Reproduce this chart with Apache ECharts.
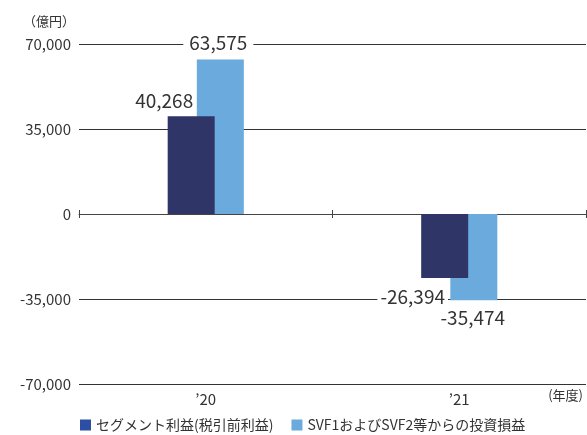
<!DOCTYPE html>
<html><head><meta charset="utf-8">
<script src="https://cdn.jsdelivr.net/npm/echarts@6/dist/echarts.min.js"></script>
<style>html,body{margin:0;padding:0;background:#fff}#c{width:587px;height:435px}</style>
</head><body><div id="c"></div>
<script>
const categories = ["’20", "’21"];
const segmentProfit = [40268, -26394];
const svfGain = [63575, -35474];
const seriesNames = ["セグメント利益(税引前利益)", "SVF1およびSVF2等からの投資損益"];
const yTicks = [-70000, -35000, 0, 35000, 70000];

const FONT = "'Noto Sans CJK JP', sans-serif";
const TXT = '#333';
const fmt = v => v.toLocaleString('en-US');

function darkData(){
  return segmentProfit.map(v => ({
    value: v,
    label: v >= 0 ? {position:'top', offset:[-27,-1]} : {position:'bottom', offset:[-32,4], backgroundColor:'#fff', padding:[0,3]}
  }));
}
function lightData(){
  return svfGain.map(v => ({
    value: v,
    label: v >= 0 ? {position:'top', offset:[-2,-2], backgroundColor:'#fff', padding:[0,6]} : {position:'bottom', offset:[-1,3]}
  }));
}

const ZERO_OFFSET = -170;
const chart = echarts.init(document.getElementById('c'));
chart.setOption({
  animation:false,
  textStyle:{fontFamily:FONT},
  grid:{left:79, right:1, top:44, bottom:51, outerBoundsMode:'none', containLabel:false},
  legend:{
    left:80, top:418, padding:0, itemWidth:11, itemHeight:11, itemGap:18, icon:'rect',
    textStyle:{fontFamily:FONT, fontSize:14, color:TXT},
    data:[{name:seriesNames[0], itemStyle:{color:'#2c4fa3'}},{name:seriesNames[1], itemStyle:{color:'#6aaadc'}}]
  },
  xAxis:[{
    type:'category', data:categories, position:'bottom',
    axisLine:{show:false, onZero:false}, axisTick:{show:false},
    axisLabel:{margin:8, fontFamily:FONT, fontSize:15, color:TXT}
  },{
    type:'category', data:categories, position:'top', offset:ZERO_OFFSET,
    axisLine:{onZero:false, lineStyle:{color:'#444', width:1}},
    axisTick:{show:true, length:4, lineStyle:{color:'#444'}},
    axisLabel:{show:false}
  },{
    type:'category', data:categories, position:'top', offset:ZERO_OFFSET,
    axisLine:{show:false, onZero:false},
    axisTick:{show:true, inside:true, length:4, lineStyle:{color:'#444'}},
    axisLabel:{show:false}
  }],
  yAxis:{
    type:'value', min:yTicks[0], max:yTicks[yTicks.length-1], interval:35000,
    name:'（億円）', nameLocation:'end', nameGap:16,
    nameTextStyle:{align:'right', padding:[0,4,0,0], fontFamily:FONT, fontSize:13, color:TXT},
    axisLine:{show:false}, axisTick:{show:false},
    axisLabel:{margin:8, fontFamily:FONT, fontSize:15, color:TXT, formatter:v=>fmt(v)},
    splitLine:{lineStyle:{color:'#333', width:1}}
  },
  graphic:[{type:'text', right:4, top:389, style:{text:'(年度)', font:"13px "+FONT, fill:TXT}}],
  series:[{
    name:seriesNames[0], type:'bar', data:darkData(), barWidth:47, barGap:'-38%', z:3,
    itemStyle:{color:'#2f3567'},
    label:{show:true, fontFamily:FONT, fontSize:19, color:TXT, formatter:p=>fmt(p.value)}
  },{
    name:seriesNames[1], type:'bar', data:lightData(), barWidth:47, z:2,
    itemStyle:{color:'#6aaadc'},
    label:{show:true, fontFamily:FONT, fontSize:19, color:TXT, formatter:p=>fmt(p.value)}
  }]
});
</script></body></html>
